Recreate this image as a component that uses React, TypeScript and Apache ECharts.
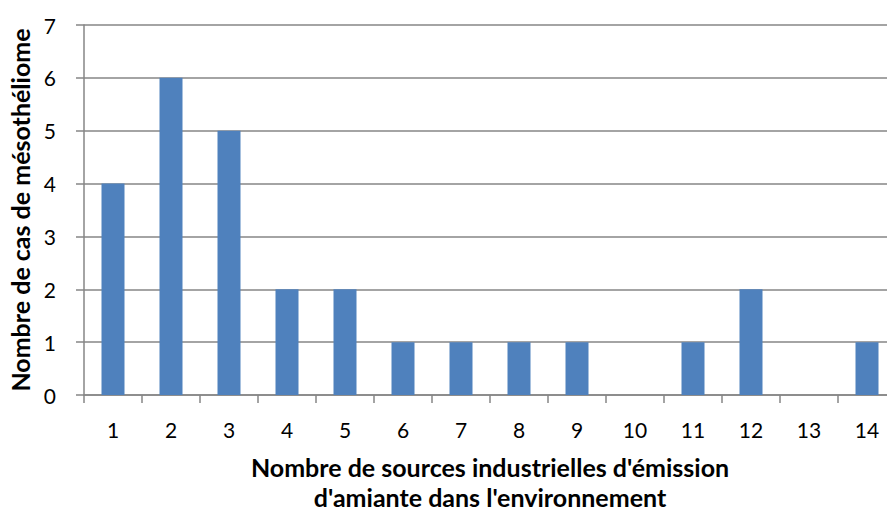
import React, { useEffect, useRef } from "react";
import * as echarts from "echarts";

const categories = ["1", "2", "3", "4", "5", "6", "7", "8", "9", "10", "11", "12", "13", "14"];
const cases = [4, 6, 5, 2, 2, 1, 1, 1, 1, 0, 1, 2, 0, 1];
const yTicks = { min: 0, max: 7, interval: 1 };

const FONT = "Lato, 'Open Sans', sans-serif";

export default function App() {
  const ref = useRef<HTMLDivElement>(null);
  useEffect(() => {
    if (!ref.current) return;
    const chart = echarts.init(ref.current, undefined, { renderer: "svg" });
    chart.setOption({
      animation: false,
      backgroundColor: "#ffffff",
      grid: { left: 84, right: -9, top: 25, bottom: 116, containLabel: false, outerBoundsMode: "none" },
      xAxis: {
        type: "category",
        data: categories,
        name: "Nombre de sources industrielles d'émission\nd'amiante dans l'environnement",
        nameLocation: "middle",
        nameGap: 57,
        nameTextStyle: { fontFamily: FONT, fontSize: 25, fontWeight: "bold", color: "#000", lineHeight: 30 },
        axisLine: { lineStyle: { color: "#868686", width: 1.5 } },
        axisTick: { show: true, length: 8, alignWithLabel: false, lineStyle: { color: "#868686", width: 1.5 } },
        axisLabel: { fontFamily: FONT, fontSize: 21, color: "#000", margin: 24 },
        splitLine: { show: false },
      },
      yAxis: {
        type: "value",
        min: yTicks.min,
        max: yTicks.max,
        interval: yTicks.interval,
        name: "Nombre de cas de mésothéliome",
        nameLocation: "middle",
        nameGap: 50,
        nameTextStyle: { fontFamily: FONT, fontSize: 25, fontWeight: "bold", color: "#000" },
        axisLine: { show: true, lineStyle: { color: "#868686", width: 1.5 } },
        axisTick: { show: true, length: 8, lineStyle: { color: "#868686", width: 1.5 } },
        axisLabel: { fontFamily: FONT, fontSize: 21, color: "#000", margin: 28 },
        splitLine: { show: true, lineStyle: { color: "#868686", width: 1.5 } },
      },
      series: [
        {
          type: "bar",
          data: cases,
          barWidth: 23,
          itemStyle: { color: "#4F81BD" },
        },
      ],
    });
    return () => chart.dispose();
  }, []);
  return (
    <div
      ref={ref}
      style={{ position: "fixed", left: 0, top: 0, width: 887, height: 511, background: "#fff" }}
    />
  );
}
